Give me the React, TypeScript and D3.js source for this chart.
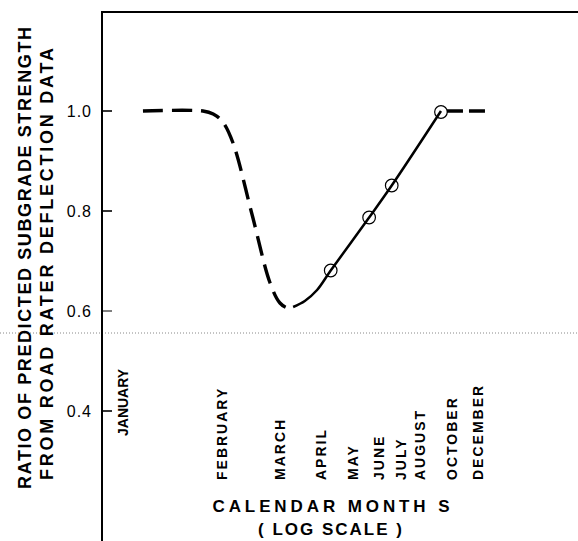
import { scaleLog, scaleLinear, line, curveCatmullRom } from "d3";

// months on a log axis (month number, label)
const monthNums = [1, 2, 3, 4, 5, 6, 7, 8, 10, 12];
const monthNames = ["JANUARY", "FEBRUARY", "MARCH", "APRIL", "MAY", "JUNE", "JULY", "AUGUST", "OCTOBER", "DECEMBER"];

const yTicks = [0.4, 0.6, 0.8, 1.0];

// estimated (dashed) part of the curve: [month, ratio]
const dashedLeft = [
    [1.15, 1.0],
    [1.75, 1.0],
    [1.88, 0.994],
    [2.01, 0.978],
    [2.16, 0.936],
    [2.47, 0.792],
    [2.8, 0.656],
    [3.0, 0.616],
    [3.17, 0.606],
    [3.29, 0.608],
];

// measured (solid) part
const solidCurve = [
    [3.29, 0.608],
    [3.57, 0.62],
    [3.89, 0.642],
    [4.28, 0.681],
    [5.6, 0.787],
    [6.56, 0.851],
    [9.26, 1.0],
];

const dashedRight = [
    [9.26, 1.0],
    [13.05, 1.0],
];

const observed = [
    [4.28, 0.681],
    [5.6, 0.787],
    [6.56, 0.851],
    [9.26, 0.998],
];

// faint dotted scan line across the sheet
const scanLine = 0.556;

const W = 578;
const H = 541;
const font = "'Liberation Sans', Arial, Helvetica, sans-serif";

export default function App() {
    const x = scaleLog().domain([1, 12]).range([123, 478]);
    const y = scaleLinear().domain([0.4, 1.0]).range([411, 111]);

    const path = line()
        .x(d => x(d[0]))
        .y(d => y(d[1]))
        .curve(curveCatmullRom.alpha(0.5));

    const axisX = 102;
    const topY = 12;

    return (
        <svg width={W} height={H} style={{ position: "absolute", left: 0, top: 0, background: "white" }}>
            {/* scan artefact */}
            <line x1={0} x2={W} y1={y(scanLine)} y2={y(scanLine)} stroke="#888" strokeWidth={1} strokeDasharray="1 2" />

            {/* frame */}
            <line x1={axisX} x2={axisX} y1={topY - 1} y2={H} stroke="black" strokeWidth={2} />
            <line x1={axisX} x2={W} y1={topY} y2={topY} stroke="black" strokeWidth={2} />

            {/* y ticks */}
            {yTicks.map((t, i) => (
                <g key={i}>
                    <line x1={axisX + 1} x2={axisX + 10} y1={y(t)} y2={y(t)} stroke="black" strokeWidth={t === 0.6 ? 1 : 1.6} />
                    <text x={92} y={y(t) + 2} textAnchor="end" dominantBaseline="middle"
                        fontFamily={font} fontSize={16} letterSpacing={1}>
                        {t.toFixed(1)}
                    </text>
                </g>
            ))}

            {/* y title */}
            <text transform={`translate(31, 258) rotate(-90)`} textAnchor="middle" fontFamily={font}
                fontSize={18} fontWeight="bold" textLength={462} lengthAdjust="spacing">
                RATIO OF PREDICTED SUBGRADE STRENGTH
            </text>
            <text transform={`translate(53, 264) rotate(-90)`} textAnchor="middle" fontFamily={font}
                fontSize={18} fontWeight="bold" textLength={432} lengthAdjust="spacing">
                FROM ROAD RATER DEFLECTION DATA
            </text>

            {/* month labels */}
            {monthNums.map((m, i) => {
                const jan = i === 0;
                return (
                    <text key={i} transform={`translate(${x(m) + 5}, ${jan ? 436 : 480}) rotate(-90)`}
                        fontFamily={font} fontSize={14} fontWeight="bold"
                        letterSpacing={jan ? 0 : 2}>
                        {monthNames[i]}
                    </text>
                );
            })}

            {/* x title */}
            <text x={331} y={512} textAnchor="middle" fontFamily={font} fontSize={17} fontWeight="bold"
                textLength={237} lengthAdjust="spacing">
                CALENDAR  MONTH S
            </text>
            <text x={330} y={535} textAnchor="middle" fontFamily={font} fontSize={17} fontWeight="bold"
                textLength={144} lengthAdjust="spacing">
                ( LOG SCALE )
            </text>

            {/* curves */}
            <path d={path(dashedLeft)} fill="none" stroke="black" strokeWidth={3.4} strokeDasharray="20 9" />
            <path d={path(solidCurve)} fill="none" stroke="black" strokeWidth={2.5} />
            <path d={path(dashedRight)} fill="none" stroke="black" strokeWidth={3.4} strokeDasharray="16 6" strokeDashoffset={-6} />

            {observed.map((d, i) => (
                <circle key={i} cx={x(d[0])} cy={y(d[1])} r={6.3} fill="none" stroke="black" strokeWidth={1.2} />
            ))}
        </svg>
    );
}
